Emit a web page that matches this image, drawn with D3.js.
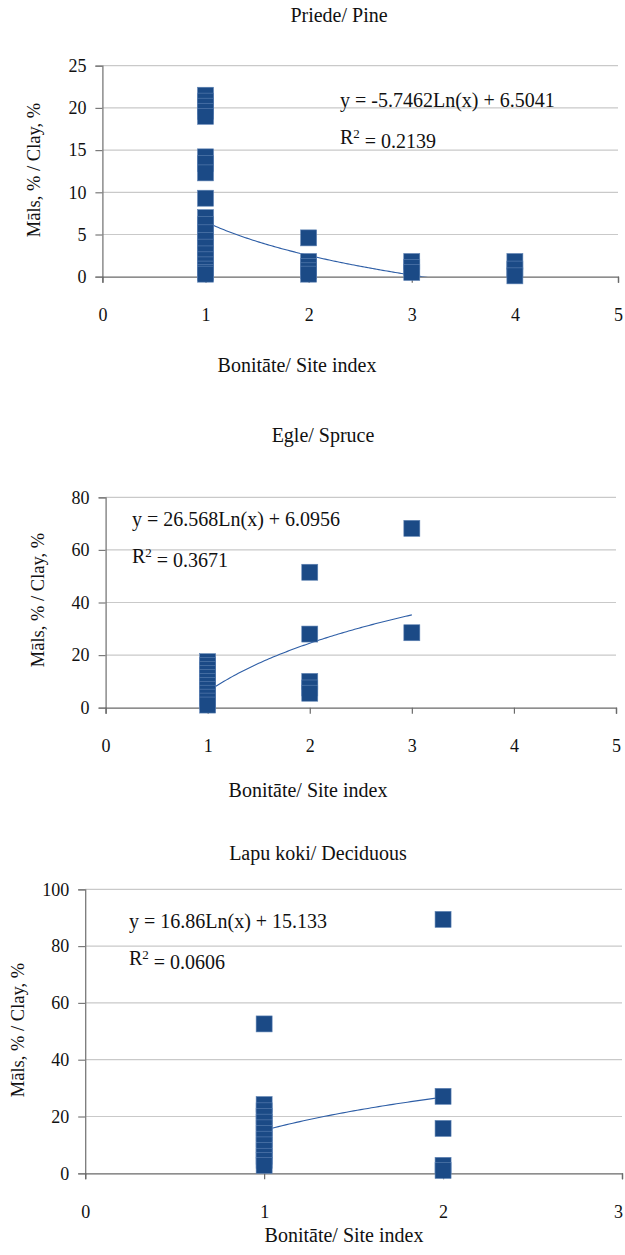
<!DOCTYPE html>
<html>
<head>
<meta charset="utf-8">
<script src="https://cdn.jsdelivr.net/npm/d3@7"></script>
<style>
  html, body { margin: 0; padding: 0; background: #fff; }
  svg { display: block; font-family: "Liberation Serif", "Times New Roman", "DejaVu Serif", serif; }
</style>
</head>
<body>
<svg id="chart" width="625" height="1255"></svg>
<script>
// Pine: site index class vs clay content
const pineSite = [1,1,1,1,1,1,1,1,1,1,1,1,1,1,1,1,1,1,1,1, 2,2,2,2,2, 3,3,3, 4,4,4];
const pineClay = [21.5,20.8,20.2,19.6,19.0,14.2,13.4,12.3,9.3,7.0,6.2,5.2,4.3,3.5,2.7,2.0,1.4,0.9,0.5,0.3,
                  4.6,1.8,1.2,0.7,0.3, 1.8,1.1,0.5, 1.8,0.9,0.1];
const pineFit = { a: -5.7462, b: 6.5041, r2: "0.2139" };

// Spruce
const spruceSite = [1,1,1,1,1,1,1,1,1,1,1,1, 2,2,2,2,2, 3,3];
const spruceClay = [17.5,16,14.5,13,11.5,10,8.5,7,5.5,4,2.5,1, 51.5,28,10,7.5,5.5, 68.2,28.5];
const spruceFit = { a: 26.568, b: 6.0956, r2: "0.3671" };

// Deciduous
const decidSite = [1,1,1,1,1,1,1,1,1,1,1,1,1, 2,2,2,2,2];
const decidClay = [52.6,24.2,22,20,18,16,14,12,10,8,6,4.5,2.8, 89.4,27.1,15.8,2.8,1.0];
const decidFit = { a: 16.86, b: 15.133, r2: "0.0606" };

// Axis tick labels
const pineYTicks = [0,5,10,15,20,25];
const spruceYTicks = [0,20,40,60,80];
const decidYTicks = [0,20,40,60,80,100];
const xTicks5 = [0,1,2,3,4,5];
const xTicks3 = [0,1,2,3];

const titles = ["Priede/ Pine", "Egle/ Spruce", "Lapu koki/ Deciduous"];
const xTitle = "Bonitāte/ Site index";
const yTitle = "Māls, % / Clay, %";

const FONT = "'Liberation Serif', 'Times New Roman', 'DejaVu Serif', serif";

const panels = [
  { title: titles[0], site: pineSite, clay: pineClay, fit: pineFit, yTicks: pineYTicks, xTicks: xTicks5,
    left: 102.4, right: 618, top: 65.7, bottom: 276.7,
    titleX: 339, titleY: 15, xLabY: 315, xTitleX: 297, xTitleY: 365, yTitleX: 34, yTitleY: 170,
    eqX: 340, eqY: 100 },
  { title: titles[1], site: spruceSite, clay: spruceClay, fit: spruceFit, yTicks: spruceYTicks, xTicks: xTicks5,
    left: 105.6, right: 616, top: 497.3, bottom: 707.7,
    titleX: 323, titleY: 435, xLabY: 746, xTitleX: 308, xTitleY: 790, yTitleX: 38, yTitleY: 600,
    eqX: 132, eqY: 519 },
  { title: titles[2], site: decidSite, clay: decidClay, fit: decidFit, yTicks: decidYTicks, xTicks: xTicks3,
    left: 85.2, right: 622, top: 889.3, bottom: 1173.3,
    titleX: 318, titleY: 853, xLabY: 1211.7, xTitleX: 344, xTitleY: 1235, yTitleX: 18, yTitleY: 1030,
    eqX: 129, eqY: 921 }
];

const svg = d3.select("#chart");
const markColor = "#1b4a86";
const lineColor = "#2e5ea6";

panels.forEach((p, i) => {
  const x = d3.scaleLinear().domain([0, d3.max(p.xTicks)]).range([p.left, p.right]);
  const y = d3.scaleLinear().domain([0, d3.max(p.yTicks)]).range([p.bottom, p.top]);
  const g = svg.append("g");

  // horizontal gridlines
  g.selectAll("line.grid").data(p.yTicks.filter(t => t > 0)).join("line")
    .attr("x1", p.left).attr("x2", p.right)
    .attr("y1", d => y(d)).attr("y2", d => y(d))
    .attr("stroke", "#c9c9c9").attr("stroke-width", 1.2);

  // y axis
  const yAxis = g.append("g").attr("transform", `translate(${p.left},0)`)
    .call(d3.axisLeft(y).tickValues(p.yTicks).tickSize(7).tickPadding(9).tickFormat(d3.format("d")));
  yAxis.attr("font-family", FONT);
  yAxis.select(".domain").attr("stroke", "#7a7a7a").attr("stroke-width", 1.3);
  yAxis.selectAll(".tick line").attr("stroke", "#7a7a7a").attr("stroke-width", 1.2);
  yAxis.selectAll(".tick text").attr("font-size", 18).attr("fill", "#111");

  // x axis
  const xMax = d3.max(p.xTicks);
  const xAxis = g.append("g").attr("transform", `translate(0,${p.bottom})`)
    .call(d3.axisBottom(x).tickValues(p.xTicks).tickSize(6).tickFormat(d3.format("d")));
  xAxis.attr("font-family", FONT);
  xAxis.select(".domain").attr("stroke", "#6a6a6a").attr("stroke-width", 1.3);
  xAxis.selectAll(".tick line").attr("stroke", "#6a6a6a").attr("stroke-width", 1.2);
  xAxis.selectAll(".tick text")
    .attr("y", p.xLabY - p.bottom).attr("dy", "0.35em")
    .attr("font-size", 18).attr("fill", "#111")
    // keep the last label inside the page edge
    .attr("x", d => (d === xMax && x(d) + 6 > 624) ? 624 - 6 - x(d) : 0);

  // clip for the trend line
  const clipId = "clip" + i;
  svg.append("clipPath").attr("id", clipId).append("rect")
    .attr("x", p.left).attr("y", p.top).attr("width", p.right - p.left).attr("height", p.bottom - p.top);

  // logarithmic trend line drawn from its equation
  const xs = d3.range(1, d3.max(p.site) + 1e-9, 0.02);
  const fitLine = d3.line().x(d => x(d)).y(d => y(p.fit.a * Math.log(d) + p.fit.b));
  g.append("path").datum(xs)
    .attr("clip-path", `url(#${clipId})`)
    .attr("d", fitLine).attr("fill", "none")
    .attr("stroke", lineColor).attr("stroke-width", 1.1);

  // square markers
  const pts = p.site.map((s, k) => ({ s, c: p.clay[k] }));
  const m = 16;
  g.selectAll("rect.pt").data(pts).join("rect")
    .attr("x", d => x(d.s) - m / 2).attr("y", d => y(d.c) - m / 2)
    .attr("width", m).attr("height", m)
    .attr("fill", markColor).attr("stroke", "#5f83b4").attr("stroke-width", 0.6);

  // equation and R²
  const eq = g.append("text").attr("x", p.eqX).attr("y", p.eqY).attr("dy", "0.35em")
    .attr("font-size", 20).attr("fill", "#111");
  const sign = p.fit.a < 0 ? "-" : "";
  eq.text(`y = ${sign}${Math.abs(p.fit.a)}Ln(x) + ${p.fit.b}`);
  const r2 = g.append("text").attr("x", p.eqX).attr("y", p.eqY + 37).attr("dy", "0.35em")
    .attr("font-size", 20).attr("fill", "#111");
  r2.append("tspan").text("R");
  r2.append("tspan").attr("dy", "-0.5em").attr("font-size", 13).text("2");
  r2.append("tspan").attr("dy", "0.5em").text(" = " + p.fit.r2);

  // titles
  g.append("text").attr("x", p.titleX).attr("y", p.titleY).attr("dy", "0.35em")
    .attr("text-anchor", "middle").attr("font-size", 20).attr("fill", "#111").text(p.title);
  g.append("text").attr("x", p.xTitleX).attr("y", p.xTitleY).attr("dy", "0.35em")
    .attr("text-anchor", "middle").attr("font-size", 20).attr("fill", "#111").text(xTitle);
  g.append("text").attr("transform", `translate(${p.yTitleX},${p.yTitleY}) rotate(-90)`)
    .attr("dy", "0.35em").attr("text-anchor", "middle").attr("font-size", 18.5).attr("fill", "#111")
    .text(yTitle);
});
</script>
</body>
</html>
